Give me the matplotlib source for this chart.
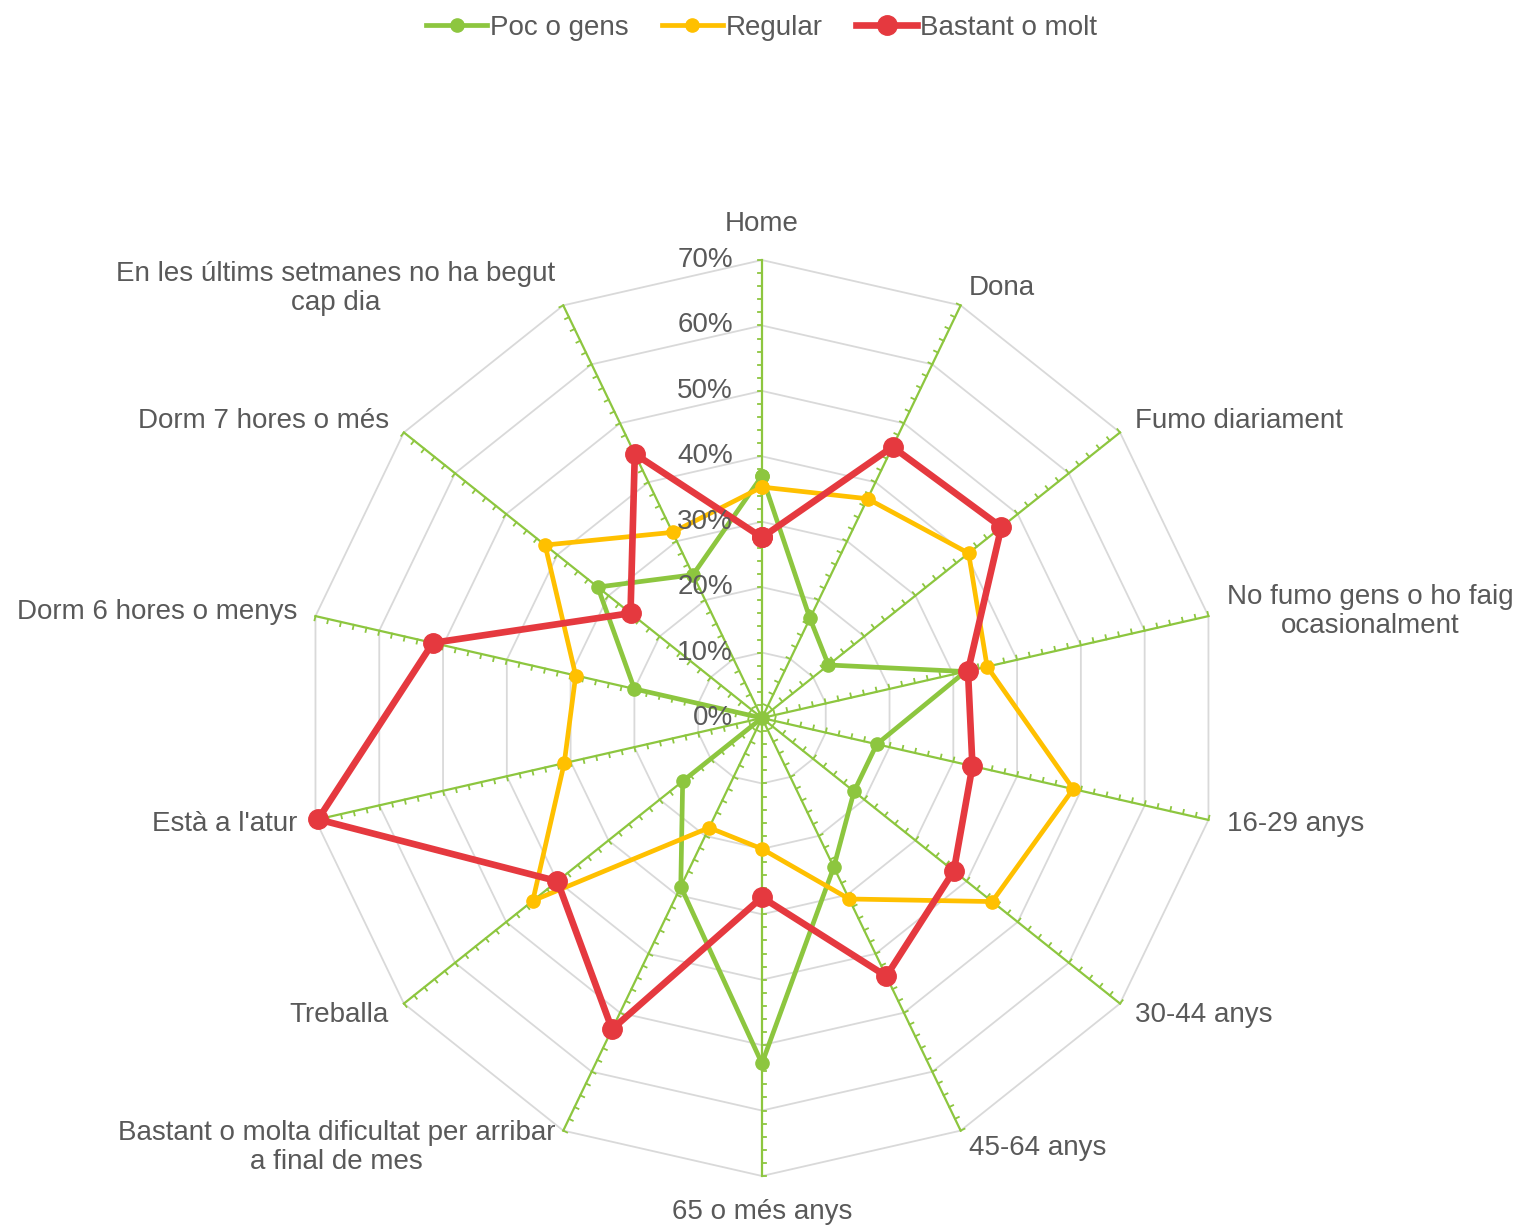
import numpy as np
import matplotlib
matplotlib.use("Agg")
import matplotlib.pyplot as plt

plt.rcParams['font.family'] = ['Liberation Sans', 'DejaVu Sans']

# categories, clockwise from the top
categories = [
    "Home",
    "Dona",
    "Fumo diariament",
    "No fumo gens o ho faig\nocasionalment",
    "16-29 anys",
    "30-44 anys",
    "45-64 anys",
    "65 o més anys",
    "Bastant o molta dificultat per arribar\na final de mes",
    "Treballa",
    "Està a l'atur",
    "Dorm 6 hores o menys",
    "Dorm 7 hores o més",
    "En les últims setmanes no ha begut\ncap dia",
]

# values in %
poc_o_gens = [37.0, 16.9, 13.0, 31.9, 18.0, 18.0, 25.3, 52.8, 28.6, 15.5, 0.0, 20.0, 32.1, 24.3]
regular = [35.3, 37.2, 40.4, 35.3, 48.8, 45.0, 30.7, 20.0, 18.6, 44.8, 31.0, 29.2, 42.4, 31.5]
bastant_o_molt = [27.6, 46.0, 46.8, 32.3, 33.0, 37.5, 43.8, 27.4, 52.8, 40.0, 69.6, 51.6, 25.7, 44.8]

series_names = ["Poc o gens", "Regular", "Bastant o molt"]
r_ticks = [0, 10, 20, 30, 40, 50, 60, 70]
r_max = 70

GREEN = '#8DC63F'
YELLOW = '#FFC000'
RED = '#E5393F'
GRID = '#D9D9D9'
TEXT = '#595959'
FS = 20

n = len(categories)
theta = np.linspace(0, 2 * np.pi, n, endpoint=False)
theta_closed = np.append(theta, theta[0])

fig = plt.figure(figsize=(15.23, 12.28), dpi=100)
ax = fig.add_axes([0.1996, 0.04235, 0.6014, 0.7459], projection='polar')
ax.set_theta_zero_location('N')
ax.set_theta_direction(-1)
ax.set_ylim(0, r_max)
ax.grid(False)
ax.spines['polar'].set_visible(False)
ax.set_xticks([])
ax.set_yticks([])
ax.patch.set_alpha(0)

# polygon gridlines
for r in r_ticks[1:]:
    ax.plot(theta_closed, [r] * (n + 1), color=GRID, lw=1.3, zorder=1, clip_on=False)

# spokes with minor ticks every 2%
tick_len = 0.65
minor = np.arange(0, r_max + 0.1, 2)
for t in theta:
    ax.plot([t, t], [0, r_max], color=GREEN, lw=1.6, zorder=2, clip_on=False)
    tx, tr = [], []
    for v in minor:
        tx += [t, t - np.arctan2(tick_len, v), np.nan]
        tr += [v, np.hypot(v, tick_len), np.nan]
    ax.plot(tx, tr, color=GREEN, lw=1.3, zorder=2, clip_on=False)

# data series
styles = [
    (poc_o_gens, GREEN, 3.4, 9.5),
    (regular, YELLOW, 3.4, 9.5),
    (bastant_o_molt, RED, 4.8, 14),
]
handles = []
for (vals, col, lw, ms), name in zip(styles, series_names):
    v = np.append(vals, vals[0])
    h, = ax.plot(theta_closed, v, color=col, lw=lw, marker='o', ms=ms,
                 label=name, zorder=4, clip_on=False)
    handles.append(h)

# radial labels
for r in r_ticks:
    ax.annotate(f"{r}%", xy=(0, r), xytext=(-29, 0), textcoords='offset pixels',
                ha='right', va='center', fontsize=FS, color=TEXT,
                annotation_clip=False, zorder=5)

# category labels
for t, lab in zip(theta, categories):
    s, c = np.sin(t), np.cos(t)
    if abs(s) < 1e-6:
        ha = 'center'
        va = 'bottom' if c > 0 else 'top'
        off = 23
    else:
        ha = 'left' if s > 0 else 'right'
        va = 'center'
        off = 19
    ax.annotate(lab, xy=(t, r_max), xytext=(off * s, off * c),
                textcoords='offset pixels', ha=ha, va=va, multialignment='center',
                fontsize=FS, color=TEXT, annotation_clip=False, linespacing=1.15)

fig.legend(handles=handles, labels=series_names, loc='upper center',
           bbox_to_anchor=(0.5, 1.008), ncol=3, frameon=False, fontsize=FS,
           labelcolor=TEXT, handlelength=2.2, handletextpad=0.1,
           columnspacing=1.2)

fig.savefig("out.png", dpi=100)
